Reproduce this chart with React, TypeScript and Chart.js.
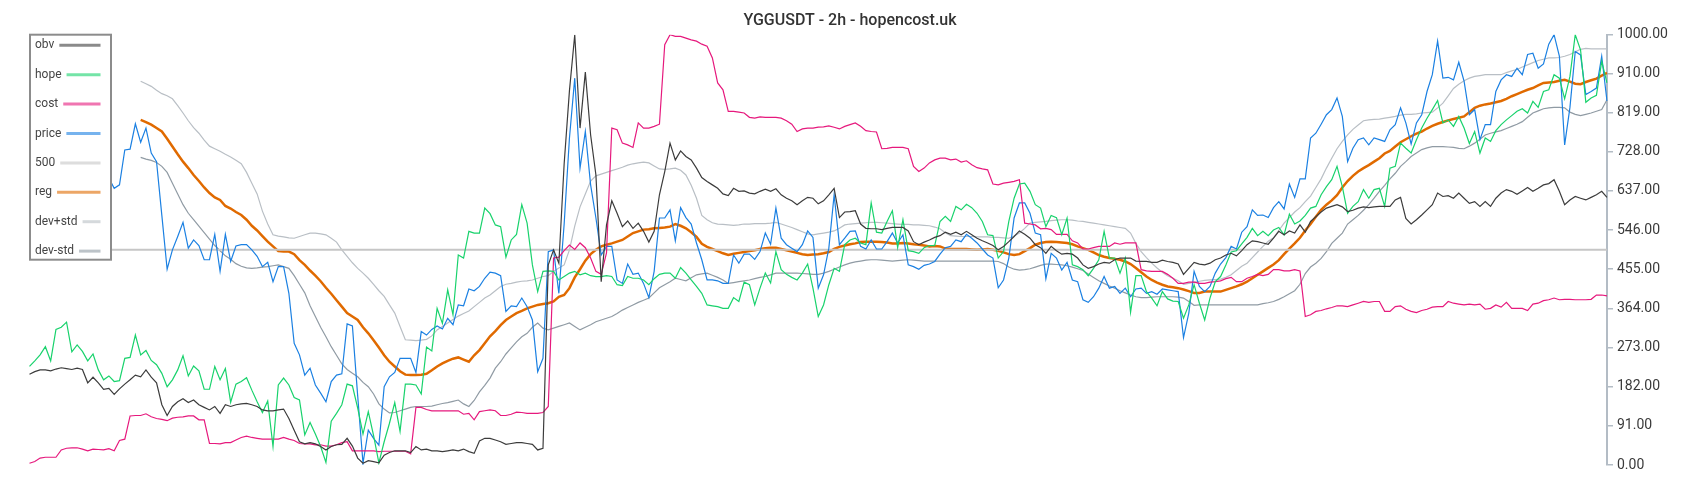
import React, { useEffect, useRef } from "react";
import { Chart, registerables } from "chart.js";

Chart.register(...registerables);

const TITLE = "YGGUSDT - 2h - hopencost.uk";
const Y_TICKS = [0, 91, 182, 273, 364, 455, 546, 637, 728, 819, 910, 1000];
const LEVEL_500 = 500;

const obv = [
  211, 217, 221, 221, 219, 223, 226, 224, 222, 225,
  222, 191, 204, 191, 176, 178, 164, 177, 188, 198,
  209, 205, 221, 204, 191, 140, 115, 136, 147, 154,
  145, 151, 140, 134, 128, 136, 120, 140, 136, 140,
  142, 143, 140, 136, 128, 126, 126, 128, 130, 108,
  81, 54, 49, 52, 49, 43, 35, 43, 47, 48,
  62, 44, 16, 4, 10, 8, 5, 23, 29, 33,
  33, 33, 29, 43, 35, 37, 33, 33, 31, 33,
  35, 33, 37, 31, 27, 56, 62, 62, 58, 54,
  48, 50, 52, 52, 50, 48, 35, 39, 465, 500,
  469, 700, 870, 1000, 783, 913, 767, 674, 426, 558,
  614, 585, 554, 567, 550, 562, 543, 518, 543, 628,
  682, 748, 709, 730, 717, 709, 690, 668, 659, 651,
  643, 630, 626, 643, 636, 637, 632, 630, 636, 641,
  636, 642, 628, 620, 614, 605, 614, 622, 620, 607,
  614, 628, 643, 575, 588, 589, 591, 560, 550, 549,
  549, 547, 550, 552, 552, 552, 544, 519, 512, 518,
  523, 529, 533, 541, 536, 541, 535, 543, 535, 527,
  521, 516, 510, 500, 508, 519, 531, 544, 536, 527,
  512, 505, 492, 508, 498, 490, 492, 490, 481, 465,
  457, 461, 467, 471, 469, 477, 481, 481, 481, 474,
  473, 473, 471, 471, 476, 473, 471, 467, 443, 457,
  471, 467, 465, 469, 477, 481, 488, 492, 486, 498,
  512, 521, 519, 516, 513, 527, 543, 535, 544, 539,
  558, 541, 566, 577, 588, 597, 601, 605, 600, 589,
  592, 597, 600, 598, 600, 601, 601, 601, 616, 622,
  573, 560, 570, 581, 593, 605, 632, 624, 626, 620,
  632, 620, 608, 612, 601, 612, 601, 620, 632, 640,
  636, 629, 637, 645, 636, 643, 651, 654, 663, 636,
  605, 616, 624, 620, 616, 622, 628, 636, 622,
];

const hope = [
  229, 242, 256, 275, 242, 315, 320, 332, 263, 279,
  264, 242, 258, 221, 198, 207, 194, 196, 248, 250,
  302, 256, 266, 243, 233, 213, 182, 198, 221, 254,
  207, 230, 219, 176, 176, 229, 198, 224, 146, 188,
  194, 203, 174, 147, 122, 149, 43, 186, 202, 186,
  157, 151, 70, 99, 72, 43, 6, 102, 120, 140,
  188, 184, 132, 72, 124, 68, 5, 54, 97, 145,
  78, 188, 188, 186, 165, 274, 265, 364, 329, 407,
  349, 488, 481, 543, 539, 539, 597, 584, 558, 554,
  483, 523, 536, 605, 562, 465, 403, 450, 451, 450,
  430, 438, 446, 450, 442, 446, 440, 438, 438, 440,
  438, 419, 417, 438, 434, 434, 430, 419, 433, 443,
  446, 446, 434, 459, 446, 430, 415, 399, 372, 370,
  368, 364, 364, 389, 380, 425, 419, 372, 411, 446,
  423, 496, 454, 443, 436, 430, 446, 467, 411, 345,
  372, 419, 457, 450, 512, 523, 527, 516, 512, 609,
  541, 539, 566, 591, 505, 570, 498, 496, 492, 505,
  510, 510, 566, 578, 566, 601, 593, 606, 598, 585,
  566, 535, 533, 481, 496, 566, 620, 653, 655, 636,
  605, 597, 554, 580, 575, 535, 574, 465, 461, 454,
  440, 457, 477, 543, 481, 481, 446, 481, 355, 440,
  440, 403, 388, 370, 403, 386, 381, 380, 341, 372,
  419, 376, 337, 388, 426, 438, 465, 495, 498, 514,
  529, 550, 533, 543, 533, 546, 552, 535, 583, 560,
  567, 580, 597, 601, 628, 647, 663, 694, 647, 585,
  601, 612, 640, 620, 640, 643, 601, 690, 694, 748,
  736, 725, 756, 783, 806, 826, 847, 795, 802, 787,
  810, 783, 747, 775, 725, 760, 752, 777, 791, 802,
  812, 822, 828, 818, 845, 831, 868, 872, 907, 899,
  851, 903, 1000, 965, 843, 853, 859, 938, 888,
];

const cost = [
  4, 8, 16, 18, 18, 18, 35, 39, 40, 40,
  37, 33, 37, 36, 35, 38, 33, 57, 60, 114,
  115, 115, 119, 112, 108, 106, 103, 109, 111, 112,
  114, 114, 105, 105, 50, 50, 49, 52, 52, 58,
  64, 67, 64, 62, 60, 60, 60, 60, 64, 60,
  57, 50, 49, 49, 47, 47, 44, 44, 47, 52,
  54, 33, 33, 33, 33, 33, 31, 32, 32, 32,
  32, 32, 26, 134, 134, 129, 126, 126, 126, 126,
  126, 126, 118, 120, 105, 124, 126, 128, 126, 115,
  115, 118, 123, 122, 120, 120, 120, 122, 136, 481,
  483, 498, 511, 501, 516, 505, 481, 450, 443, 493,
  783, 779, 748, 744, 738, 795, 783, 783, 787, 792,
  977, 1000, 996, 996, 992, 988, 985, 978, 973, 946,
  888, 872, 822, 822, 820, 818, 808, 806, 809, 808,
  808, 808, 806, 800, 792, 775, 781, 783, 783, 785,
  786, 788, 785, 781, 787, 791, 795, 787, 777, 775,
  774, 735, 736, 738, 738, 738, 735, 694, 682, 690,
  702, 709, 713, 713, 709, 711, 704, 707, 698, 691,
  688, 686, 653, 651, 655, 657, 659, 663, 562, 560,
  558, 549, 550, 547, 536, 536, 536, 521, 516, 502,
  502, 505, 508, 508, 508, 516, 513, 516, 516, 516,
  454, 451, 450, 450, 450, 443, 434, 422, 422, 425,
  425, 422, 422, 425, 426, 428, 433, 436, 426, 426,
  434, 438, 443, 440, 443, 454, 454, 451, 451, 454,
  451, 345, 349, 357, 359, 363, 366, 370, 370, 368,
  372, 376, 380, 378, 380, 380, 357, 357, 368, 370,
  362, 357, 354, 359, 362, 367, 368, 368, 380, 376,
  374, 372, 374, 372, 374, 362, 364, 372, 367, 378,
  364, 364, 364, 359, 374, 376, 382, 384, 388, 384,
  385, 385, 384, 384, 384, 385, 395, 395, 393,
];

const price = [
  700, 690, 660, 640, 650, 620, 640, 660, 680, 700,
  690, 720, 700, 680, 690, 667, 643, 651, 732, 734,
  793, 750, 783, 725, 705, 580, 455, 500, 531, 564,
  504, 523, 510, 477, 477, 536, 450, 536, 473, 509,
  512, 512, 500, 485, 461, 471, 426, 461, 461, 399,
  283, 256, 209, 225, 186, 167, 147, 194, 209, 212,
  328, 323, 160, 4, 81, 62, 46, 182, 205, 215,
  248, 248, 248, 215, 310, 302, 315, 323, 316, 341,
  326, 372, 370, 409, 405, 415, 434, 448, 446, 440,
  357, 370, 368, 388, 368, 337, 217, 248, 496, 500,
  399, 560, 760, 899, 690, 775, 651, 574, 488, 508,
  508, 430, 422, 467, 443, 446, 422, 389, 450, 574,
  574, 593, 521, 598, 575, 560, 516, 477, 430, 430,
  428, 422, 422, 488, 469, 490, 490, 478, 496, 539,
  513, 597, 527, 512, 504, 496, 512, 544, 529, 411,
  442, 504, 628, 512, 527, 543, 544, 508, 502, 523,
  502, 502, 519, 539, 516, 535, 465, 461, 455, 464,
  467, 473, 490, 505, 508, 523, 519, 536, 527, 516,
  502, 488, 481, 412, 430, 481, 574, 609, 609, 585,
  539, 535, 433, 492, 481, 453, 471, 430, 426, 384,
  378, 391, 411, 438, 411, 415, 399, 411, 391, 409,
  411, 399, 403, 397, 409, 407, 405, 403, 296, 353,
  450, 415, 403, 415, 446, 467, 482, 508, 502, 541,
  554, 593, 580, 581, 575, 598, 612, 595, 653, 622,
  665, 665, 760, 771, 792, 814, 826, 853, 810, 705,
  736, 756, 760, 744, 760, 756, 752, 779, 791, 830,
  795, 746, 795, 814, 868, 907, 985, 899, 901, 895,
  936, 892, 814, 826, 756, 791, 791, 868, 895, 907,
  903, 922, 907, 954, 957, 922, 932, 978, 1000, 950,
  744, 831, 961, 953, 861, 868, 876, 950, 846,
];

const reg = [
  null, null, null, null, null, null, null, null, null, null,
  null, null, null, null, null, null, null, null, null, null,
  null, 802, 797, 791, 783, 775, 758, 740, 722, 705,
  690, 674, 660, 645, 632, 622, 616, 602, 596, 588,
  581, 570, 556, 545, 532, 519, 508, 497, 496, 496,
  490, 476, 465, 452, 440, 427, 412, 398, 383, 368,
  353, 345, 337, 320, 306, 290, 273, 255, 240, 229,
  218, 210, 209, 209, 210, 212, 220, 229, 236, 242,
  247, 250, 245, 240, 255, 267, 283, 299, 311, 325,
  337, 345, 353, 358, 364, 368, 372, 374, 376, 380,
  391, 395, 411, 436, 455, 475, 490, 500, 508, 512,
  515, 519, 523, 531, 539, 543, 547, 548, 550, 551,
  552, 554, 560, 556, 550, 541, 530, 514, 507, 502,
  497, 492, 488, 491, 493, 495, 497, 499, 502, 504,
  505, 505, 502, 499, 496, 493, 490, 488, 489, 490,
  492, 495, 502, 507, 510, 513, 515, 518, 519, 519,
  519, 518, 517, 515, 515, 516, 515, 513, 512, 510,
  508, 509, 508, 503, 502, 502, 502, 502, 501, 500,
  501, 502, 500, 498, 494, 490, 488, 490, 497, 504,
  512, 516, 518, 519, 518, 517, 516, 513, 508, 504,
  500, 494, 488, 484, 481, 479, 477, 473, 467, 458,
  448, 438, 430, 424, 419, 415, 413, 411, 408, 404,
  400, 400, 403, 403, 403, 403, 407, 411, 415, 420,
  426, 434, 442, 450, 458, 466, 476, 490, 503, 515,
  528, 545, 560, 577, 593, 605, 615, 627, 645, 660,
  672, 682, 690, 697, 705, 713, 724, 730, 740, 750,
  757, 764, 770, 775, 782, 788, 793, 797, 801, 804,
  807, 810, 820, 830, 835, 838, 840, 843, 846, 851,
  857, 862, 867, 872, 876, 882, 888, 889, 890, 893,
  895, 891, 886, 885, 890, 894, 898, 905, 911,
];

const devPlus = [
  null, null, null, null, null, null, null, null, null, null,
  null, null, null, null, null, null, null, null, null, null,
  null, 892, 886, 880, 871, 863, 858, 851, 835, 818,
  800, 784, 771, 755, 741, 735, 729, 722, 716, 708,
  700, 680, 655, 630, 590, 560, 535, 532, 530, 528,
  527, 531, 535, 539, 539, 537, 535, 527, 518, 500,
  485, 470, 457, 446, 434, 420, 405, 392, 372, 353,
  322, 291, 290, 289, 290, 292, 300, 314, 322, 330,
  338, 346, 352, 358, 368, 378, 388, 395, 405, 415,
  420, 422, 425, 427, 428, 430, 434, 438, 440, 450,
  458, 465, 500, 555, 600, 630, 660, 672, 676, 680,
  684, 688, 692, 697, 700, 702, 704, 702, 695, 688,
  687, 688, 690, 685, 674, 650, 620, 580, 570, 563,
  560, 559, 558, 557, 558, 560, 560, 561, 561, 561,
  562, 564, 560, 556, 552, 547, 542, 537, 535, 537,
  539, 541, 544, 550, 558, 560, 561, 562, 563, 564,
  564, 563, 562, 561, 560, 559, 559, 558, 558, 557,
  556, 553, 549, 540, 533, 532, 531, 531, 531, 530,
  530, 530, 529, 529, 528, 527, 532, 539, 550, 562,
  564, 565, 566, 568, 569, 570, 570, 569, 567, 566,
  564, 562, 560, 558, 556, 554, 552, 550, 539, 515,
  496, 482, 469, 458, 448, 440, 434, 428, 420, 422,
  425, 427, 429, 430, 431, 432, 436, 442, 452, 462,
  469, 482, 495, 508, 520, 528, 545, 562, 575, 588,
  598, 612, 625, 645, 665, 690, 713, 735, 752, 767,
  780, 790, 800, 802, 803, 804, 806, 808, 810, 813,
  815, 815, 816, 818, 819, 820, 830, 841, 858, 875,
  885, 893, 899, 903, 905, 907, 907, 907, 907, 912,
  916, 919, 925, 930, 935, 940, 943, 946, 946, 947,
  950, 954, 960, 966, 968, 967, 967, 967, 967,
];

const devMinus = [
  null, null, null, null, null, null, null, null, null, null,
  null, null, null, null, null, null, null, null, null, null,
  null, 715, 711, 708, 703, 694, 680, 655, 630, 605,
  585, 570, 555, 540, 525, 510, 498, 486, 478, 468,
  462, 458, 457, 458, 460, 461, 463, 465, 461, 457,
  440, 420, 400, 370, 345, 320, 298, 275, 255, 235,
  222, 213, 205, 192, 182, 165, 142, 130, 121, 122,
  126, 130, 134, 136, 136, 136, 137, 140, 143, 145,
  148, 151, 142, 136, 150, 170, 185, 202, 225, 240,
  258, 272, 286, 298, 306, 320, 330, 318, 314, 318,
  322, 326, 330, 322, 314, 320, 326, 333, 337, 341,
  345, 352, 360, 366, 372, 378, 383, 388, 400, 412,
  419, 426, 434, 431, 428, 435, 442, 444, 446, 441,
  436, 430, 422, 424, 426, 428, 430, 433, 436, 438,
  442, 446, 446, 446, 446, 446, 445, 444, 443, 443,
  446, 450, 455, 460, 465, 469, 472, 474, 476, 477,
  477, 476, 475, 474, 475, 476, 477, 476, 475, 474,
  474, 474, 474, 474, 474, 474, 474, 474, 474, 474,
  474, 474, 474, 473, 468, 460, 455, 453, 454, 456,
  460, 464, 467, 467, 466, 465, 463, 460, 456, 452,
  444, 436, 428, 422, 416, 411, 405, 400, 395, 391,
  389, 389, 390, 391, 391, 391, 391, 390, 388, 380,
  371, 372, 372, 372, 372, 372, 372, 372, 372, 372,
  372, 372, 372, 375, 377, 380, 385, 391, 398, 405,
  420, 445, 460, 469, 480, 496, 515, 527, 539, 560,
  570, 580, 592, 605, 620, 636, 650, 665, 678, 694,
  705, 717, 725, 733, 737, 740, 740, 740, 739, 738,
  736, 735, 741, 748, 757, 767, 771, 774, 777, 782,
  787, 792, 798, 808, 818, 823, 828, 830, 831, 831,
  830, 820, 815, 812, 815, 818, 822, 826, 849,
];

const AXIS_COLOR = "#b3bcc5";

const SERIES = [
  { label: "obv", data: obv, color: "#3c3c3c", width: 1.2 },
  { label: "hope", data: hope, color: "#18d26c", width: 1.2 },
  { label: "cost", data: cost, color: "#e6197d", width: 1.2 },
  { label: "price", data: price, color: "#1b80e2", width: 1.2 },
  { label: "500", data: obv.map(() => LEVEL_500), color: "#c6c6c6", width: 2 },
  { label: "reg", data: reg, color: "#e06a00", width: 2.5 },
  { label: "dev+std", data: devPlus, color: "#b9bfc5", width: 1.2 },
  { label: "dev-std", data: devMinus, color: "#909ba4", width: 1.2 },
];

const overlayPlugin = {
  id: "overlay",
  afterDraw(chart: any) {
    const ctx = chart.ctx as CanvasRenderingContext2D;
    const area = chart.chartArea;
    ctx.save();
    // title
    ctx.font = "500 16px Roboto";
    ctx.fillStyle = "#333333";
    ctx.textAlign = "center";
    ctx.textBaseline = "middle";
    ctx.fillText(TITLE, chart.width / 2, 20.5);

    // legend box
    const bx = area.left + 0.5;
    const by = area.top;
    const bw = 81;
    const bh = 225;
    ctx.fillStyle = "#ffffff";
    ctx.fillRect(bx, by, bw, bh);
    ctx.lineWidth = 2;
    ctx.strokeStyle = "#8c8c8c";
    ctx.strokeRect(bx, by, bw, bh);

    ctx.font = "12px Roboto";
    ctx.textAlign = "left";
    ctx.textBaseline = "middle";
    SERIES.forEach((s, k) => {
      const y = by + 10.6 + k * 29.4;
      ctx.globalAlpha = 1;
      ctx.fillStyle = "#444444";
      ctx.fillText(s.label, bx + 5, y);
      const tw = ctx.measureText(s.label).width;
      ctx.globalAlpha = 0.6;
      ctx.strokeStyle = s.color;
      ctx.lineWidth = 3;
      ctx.beginPath();
      ctx.moveTo(bx + 5 + tw + 5, y);
      ctx.lineTo(bx + 70.5, y);
      ctx.stroke();
    });
    ctx.restore();
  },
};

export default function App() {
  const ref = useRef<HTMLCanvasElement | null>(null);

  useEffect(() => {
    document.body.style.margin = "0";
    const canvas = ref.current;
    if (!canvas) return;
    const labels = obv.map((_, i) => String(i));
    const chart = new Chart(canvas, {
      type: "line",
      data: {
        labels,
        datasets: SERIES.map((s) => ({
          label: s.label,
          data: s.data as any,
          borderColor: s.color,
          backgroundColor: s.color,
          borderWidth: s.width,
          pointRadius: 0,
          pointHoverRadius: 0,
          tension: 0,
          fill: false,
          spanGaps: false,
        })),
      },
      options: {
        responsive: false,
        animation: false,
        events: [],
        layout: { padding: { left: 29.5, right: 0, top: 34.7, bottom: 35 } },
        plugins: {
          legend: { display: false },
          title: { display: false },
          tooltip: { enabled: false },
        },
        scales: {
          x: { display: false },
          y: {
            position: "right",
            min: 0,
            max: 1000,
            afterBuildTicks: (scale: any) => {
              scale.ticks = Y_TICKS.map((value) => ({ value }));
            },
            afterFit: (scale: any) => {
              scale.width = 93;
            },
            grid: {
              display: true,
              drawOnChartArea: false,
              drawTicks: true,
              tickLength: 6,
              color: AXIS_COLOR,
              lineWidth: 1.5,
            },
            border: { display: true, color: AXIS_COLOR, width: 2 },
            ticks: {
              padding: 4,
              color: "#3a3a3a",
              font: { family: "Roboto", size: 14 },
              callback: (v: any) => Number(v).toFixed(2),
            },
          },
        },
      },
      plugins: [overlayPlugin],
    });
    return () => chart.destroy();
  }, []);

  return (
    <div style={{ width: 1700, height: 500 }}>
      <canvas ref={ref} width={1700} height={500} style={{ display: "block" }} />
    </div>
  );
}
